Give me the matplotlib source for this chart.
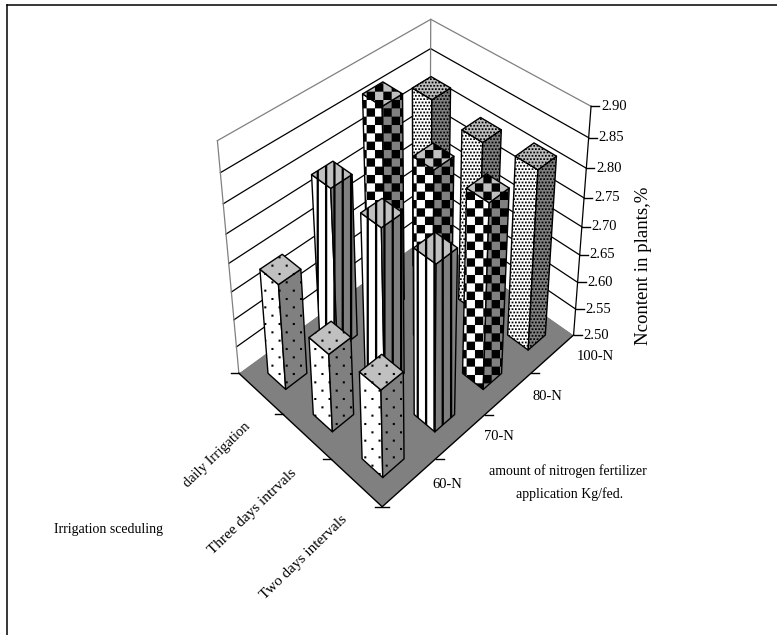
import numpy as np
import matplotlib
matplotlib.use('Agg')
import matplotlib.pyplot as plt
import matplotlib.hatch as mhatch
from matplotlib.lines import Line2D
from matplotlib.path import Path
from matplotlib.transforms import IdentityTransform
from mpl_toolkits.mplot3d import proj3d
from mpl_toolkits.mplot3d.art3d import Poly3DCollection

plt.rcParams['font.family'] = ['Liberation Serif', 'DejaVu Serif']
plt.rcParams['hatch.linewidth'] = 0.05

nitrogen = ['60-N', '70-N', '80-N', '100-N']
irrigation = ['Two days intervals', 'Three days intrvals', 'daily Irrigation']
# N content, one list per nitrogen level, in the order of irrigation
n60 = [2.655, 2.64, 2.69]
n70 = [2.79, 2.785, 2.79]
n80 = [2.825, 2.82, 2.87]
n100 = [2.82, 2.81, 2.83]
z_ticks = [2.50, 2.55, 2.60, 2.65, 2.70, 2.75, 2.80, 2.85, 2.90]

W, H = 777, 635


class TilePattern(mhatch.HatchPatternBase):
    # squares on a regular tile, filled by the renderer
    char = ''

    def __init__(self, hatch, density):
        self.on = self.char in hatch
        self.rects = self.make_rects() if self.on else []
        self.num_vertices = 5*len(self.rects)

    def make_rects(self):
        return []

    def set_vertices_and_codes(self, vertices, codes):
        for k, (x0, y0, w, h) in enumerate(self.rects):
            vertices[5*k:5*k+5] = [(x0, y0), (x0+w, y0), (x0+w, y0+h), (x0, y0+h), (x0, y0)]
            codes[5*k:5*k+5] = [Path.MOVETO, Path.LINETO, Path.LINETO, Path.LINETO, Path.CLOSEPOLY]


class SparseDots(TilePattern):
    char = '.'

    def make_rects(self):
        return [(i/14, j/12, 0.02, 0.02) for i in range(14) for j in range(12) if (i+j) % 2 == 0]


class FineDots(TilePattern):
    char = '*'

    def make_rects(self):
        return [((i + 0.5*(j % 2))/30, j/30, 0.017, 0.017) for i in range(30) for j in range(30)]


class Stripes(TilePattern):
    char = '|'

    def make_rects(self):
        return [(i/12, 0, 0.022, 1) for i in range(12)]


class Checks(TilePattern):
    char = '+'

    def make_rects(self):
        return [(i/12, j/12, 1/12, 1/12) for i in range(12) for j in range(12) if (i+j) % 2 == 0]


mhatch._hatch_types = [SparseDots, FineDots, Stripes, Checks]

series = [(n60, '.'), (n70, '|'), (n80, '+'), (n100, '*')]

fig = plt.figure(figsize=(W/100, H/100), dpi=100)
ax = fig.add_axes([200.05/W, 124.21/H, 405.51/W, 517.93/H], projection='3d', computed_zorder=False)
# keep the box stretched taller than wide
ax.apply_aspect = lambda position=None: None
ax.set_proj_type('persp', focal_length=0.5119)
ax.view_init(elev=34.3768, azim=-134.5989, roll=0.4234)
ax.set_box_aspect((1.3013, 0.9862, 1))
ax.set_xlim(0, 4)
ax.set_ylim(0, 3)
ax.set_zlim(2.5, 2.9)
ax.set_axis_off()


def to_px(x, y, z):
    u, v, _ = proj3d.proj_transform(x, y, z, ax.get_proj())
    return ax.transData.transform((u, v))


def face(verts, color, zorder, hatch=None, lw=1.0):
    poly = Poly3DCollection([verts], facecolors=color, edgecolors='black' if hatch or lw else 'none',
                            linewidths=lw, zorder=zorder, hatch=hatch)
    ax.add_collection3d(poly)


# floor and the two back walls
zb, zt = z_ticks[0], z_ticks[-1]
face([(0, 0, zb), (4, 0, zb), (4, 3, zb), (0, 3, zb)], '#808080', 1, lw=0)
face([(0, 3, zb), (4, 3, zb), (4, 3, zt), (0, 3, zt)], 'white', 1, lw=0)
face([(4, 0, zb), (4, 3, zb), (4, 3, zt), (4, 0, zt)], 'white', 1, lw=0)
for z in z_ticks[1:]:
    col = '#808080' if z == zt else 'black'
    ax.plot([0, 4, 4], [3, 3, 0], [z, z, z], color=col, lw=0.9, zorder=2)
ax.plot([0, 0], [3, 3], [zb, zt], color='#808080', lw=0.9, zorder=2)
ax.plot([4, 4], [3, 3], [zb, zt], color='#808080', lw=0.9, zorder=2)
ax.plot([4, 4], [0, 0], [zb, zt], color='black', lw=0.9, zorder=3)
ax.plot([0, 0, 4], [3, 0, 0], [zb, zb, zb], color='black', lw=1.0, zorder=3)

# bars, far ones first
w = 0.4
order = 10
for i in reversed(range(len(series))):
    vals, pat = series[i]
    for j in reversed(range(len(vals))):
        x0, y0 = i + 0.3, j + 0.3
        x1, y1 = x0 + w, y0 + w
        v = vals[j]
        face([(x0, y0, zb), (x0, y1, zb), (x0, y1, v), (x0, y0, v)], 'white', order, pat)
        face([(x0, y0, zb), (x1, y0, zb), (x1, y0, v), (x0, y0, v)], '#808080', order, pat)
        face([(x0, y0, v), (x1, y0, v), (x1, y1, v), (x0, y1, v)], '#c0c0c0', order, pat)
        order += 1

for art in list(ax.collections) + list(ax.lines):
    art.set_clip_on(False)


def tick(px, left, right):
    fig.add_artist(Line2D([px[0]-left, px[0]+right], [px[1], px[1]], color='black', lw=1.0,
                          transform=IdentityTransform()))


def label(x, y, s, size=10, **kw):
    fig.text(x/W, 1-y/H, s, fontsize=size, ha=kw.pop('ha', 'center'), va='center', **kw)


for z in z_ticks:
    p = to_px(4, 0, z)
    tick(p, 0, 8)
    label(p[0]+10, H-p[1], '%.2f' % z, ha='left', size=10.5)
for k in range(1, 4):
    tick(to_px(k, 0, zb), 0, 8)
for k in range(1, 4):
    tick(to_px(0, k, zb), 8, 0)
tick(to_px(0, 0, zb), 7, 7)

label(447, 484, nitrogen[0], size=10.5)
label(499, 437, nitrogen[1], size=10.5)
label(547, 396, nitrogen[2], size=10.5)
label(595, 356, nitrogen[3], size=10.5)
label(304, 557, irrigation[0], size=11, rotation=44, rotation_mode='anchor')
label(253, 512, irrigation[1], size=11, rotation=44, rotation_mode='anchor')
label(217, 455, irrigation[2], size=10.5, rotation=44, rotation_mode='anchor')
label(109, 530, 'Irrigation sceduling', size=10)
label(568, 471, 'amount of nitrogen fertilizer', size=10)
label(570, 494, 'application Kg/fed.', size=10)
label(644, 266, 'Ncontent in plants,%', size=13.5, rotation=90, rotation_mode='anchor')

# frame lines along the top and the left only
fig.add_artist(Line2D([7.3, W], [H-4.5, H-4.5], color='black', lw=1.1, transform=IdentityTransform()))
fig.add_artist(Line2D([7.3, 7.3], [0, H-4.5], color='black', lw=1.1, transform=IdentityTransform()))

fig.savefig('out.png', dpi=100)
